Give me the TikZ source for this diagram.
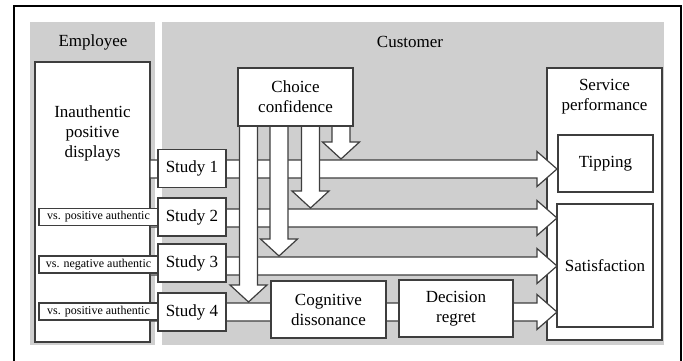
\documentclass[tikz,border=0pt]{standalone}
\usepackage{fontspec}
\setmainfont{Liberation Serif}
\definecolor{panel}{RGB}{207,207,207}
\definecolor{ln}{RGB}{62,62,62}
\tikzset{
  box/.style={draw=ln, fill=white, line width=1.2pt, inner sep=0pt, align=center, font=\fontsize{17}{20}\selectfont},
  txt/.style={inner sep=0pt, align=center, font=\fontsize{17}{20}\selectfont},
  vsbox/.style={draw=ln, fill=white, line width=1.2pt, inner sep=0pt, minimum width=119pt, minimum height=17pt, font=\fontsize{12}{14}\selectfont},
  studybox/.style={box, minimum width=68pt, minimum height=38pt},
  fat/.style={draw=ln, fill=white, line width=1.2pt, line join=miter},
  panelbox/.style={fill=panel, draw=none, inner sep=0pt},
}
\newcommand\harr[3]{\draw[fat] (#1,#3-9) -- (#2-20,#3-9) -- (#2-20,#3-17.5) -- (#2,#3) -- (#2-20,#3+17.5) -- (#2-20,#3+9) -- (#1,#3+9) -- cycle;}
\newcommand\varr[3]{\draw[fat] (#1-9,#2) -- (#1-9,#3-17) -- (#1-18.5,#3-17) -- (#1,#3) -- (#1+18.5,#3-17) -- (#1+9,#3-17) -- (#1+9,#2) -- cycle;}
\begin{document}
\begin{tikzpicture}[x=1pt,y=-1pt]
\useasboundingbox (0,0) rectangle (683,361);
% outer frame
\draw[line width=2.6pt] (14,362) -- (14,6) -- (681,6) -- (681,362);
% panels
\node[panelbox, minimum width=125pt, minimum height=323pt] (emppanel) at (92.5,183.5) {};
\node[panelbox, minimum width=502pt, minimum height=323pt] (cuspanel) at (413,183.5) {};
\node[txt] (emphead) at (93,42) {Employee};
\node[txt] (cushead) at (410,42) {Customer};
% employee box
\node[box, minimum width=115pt, minimum height=280pt] (emp) at (92.5,202) {};
\node[txt] (empt) at (92.5,133) {Inauthentic\\positive\\displays};
% service performance
\node[box, minimum width=115pt, minimum height=272pt] (serv) at (604.5,204) {};
\node[txt] (servt) at (604.5,97) {Service\\performance};
\node[box, minimum width=95pt, minimum height=57pt] (tip) at (605.5,163.5) {Tipping};
\node[box, minimum width=96pt, minimum height=123pt] (sat) at (605,265.5) {Satisfaction};
% horizontal bands
\harr{150}{557}{169}
\harr{150}{557}{218}
\harr{150}{557}{266}
\harr{150}{557}{312}
% vs boxes
\node[vsbox] (vs2) at (98.5,217) {vs. positive authentic};
\node[vsbox] (vs3) at (98.5,264.5) {vs. negative authentic};
\node[vsbox] (vs4) at (98.5,311.5) {vs. positive authentic};
% study boxes
\node[studybox] (s1) at (192,168.5) {Study 1};
\node[studybox] (s2) at (192,217) {Study 2};
\node[studybox] (s3) at (192,263) {Study 3};
\node[studybox] (s4) at (192,312) {Study 4};
% cognitive / decision
\node[box, minimum width=115pt, minimum height=57pt] (cog) at (328.5,309.5) {Cognitive\\dissonance};
\node[box, minimum width=114pt, minimum height=57pt] (dec) at (456,308.5) {Decision\\regret};
% vertical arrows
\varr{248.5}{125}{302}
\varr{279}{125}{256}
\varr{310.5}{125}{208}
\varr{341}{125}{159}
% choice confidence
\node[box, minimum width=115pt, minimum height=58pt] (cc) at (295.5,97) {Choice\\confidence};
\end{tikzpicture}
\end{document}
